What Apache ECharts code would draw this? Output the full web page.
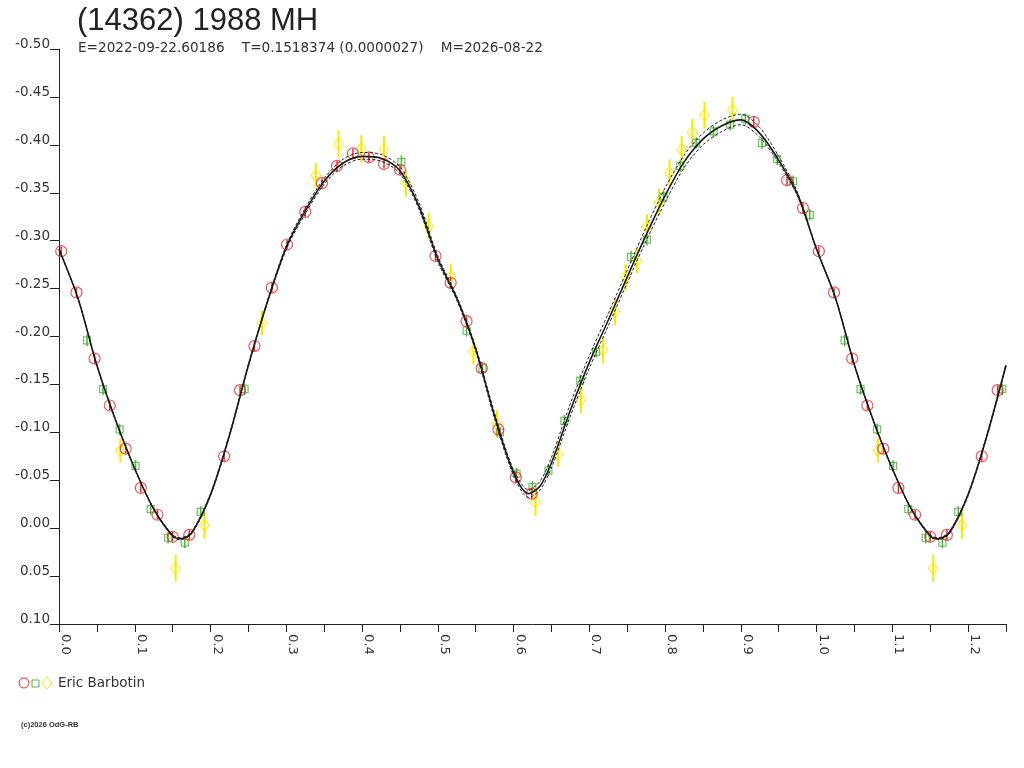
<!DOCTYPE html>
<html>
<head>
<meta charset="utf-8">
<script src="https://cdn.jsdelivr.net/npm/echarts@6/dist/echarts.min.js"></script>
<style>
html,body{margin:0;padding:0;background:#fff;}
#chart{width:1024px;height:768px;}
</style>
</head>
<body>
<div id="chart"></div>
<script>
// ---- Data (phase, magnitude, error) ----
var titleText = "(14362) 1988 MH";
var subtitleText = "E=2022-09-22.60186    T=0.1518374 (0.0000027)    M=2026-08-22";
var observer = "Eric Barbotin";
var copyrightText = "(c)2026 OdG-RB";

var yTicks = [-0.50,-0.45,-0.40,-0.35,-0.30,-0.25,-0.20,-0.15,-0.10,-0.05,0.00,0.05,0.10];

var redPoints = [
 [0.003,-0.289,0.005],[0.023,-0.246,0.005],[0.047,-0.177,0.005],[0.067,-0.128,0.005],
 [0.088,-0.083,0.005],[0.108,-0.042,0.005],[0.130,-0.014,0.005],[0.150,0.009,0.005],
 [0.172,0.007,0.005],[0.218,-0.075,0.005],[0.239,-0.144,0.005],[0.258,-0.190,0.005],
 [0.281,-0.251,0.005],[0.301,-0.296,0.005],[0.325,-0.330,0.005],[0.347,-0.360,0.005],
 [0.367,-0.378,0.005],[0.388,-0.391,0.005],[0.409,-0.387,0.005],[0.429,-0.380,0.005],
 [0.450,-0.374,0.005],[0.497,-0.284,0.005],[0.517,-0.256,0.005],[0.538,-0.216,0.005],
 [0.558,-0.167,0.005],[0.580,-0.103,0.005],[0.603,-0.053,0.005],[0.624,-0.036,0.005],
 [0.917,-0.424,0.005],[0.961,-0.363,0.005],[0.982,-0.334,0.005]
];
var greenPoints = [
 [0.037,-0.196,0.006],[0.058,-0.145,0.006],[0.080,-0.103,0.006],[0.101,-0.065,0.006],
 [0.121,-0.020,0.006],[0.144,0.010,0.006],[0.166,0.015,0.006],[0.187,-0.017,0.006],
 [0.245,-0.145,0.006],[0.452,-0.382,0.007],[0.538,-0.206,0.006],[0.559,-0.167,0.006],
 [0.582,-0.100,0.006],[0.604,-0.057,0.006],[0.625,-0.043,0.006],[0.646,-0.060,0.006],
 [0.667,-0.112,0.006],[0.688,-0.154,0.006],[0.709,-0.184,0.006],[0.755,-0.283,0.006],
 [0.776,-0.301,0.006],[0.798,-0.346,0.006],[0.820,-0.378,0.006],[0.841,-0.402,0.006],
 [0.864,-0.414,0.006],[0.886,-0.421,0.006],[0.906,-0.427,0.006],[0.928,-0.402,0.006],
 [0.948,-0.385,0.006],[0.969,-0.362,0.006],[0.991,-0.327,0.006]
];
var yellowPoints = [
 [0.081,-0.081,0.0125],[0.154,0.042,0.014],[0.192,-0.003,0.014],[0.268,-0.214,0.013],
 [0.339,-0.368,0.013],[0.369,-0.401,0.014],[0.399,-0.396,0.014],[0.429,-0.395,0.014],
 [0.458,-0.360,0.014],[0.488,-0.315,0.014],[0.517,-0.263,0.013],[0.547,-0.184,0.013],
 [0.578,-0.109,0.014],[0.629,-0.027,0.014],[0.659,-0.077,0.013],[0.689,-0.134,0.014],
 [0.718,-0.186,0.014],[0.734,-0.226,0.014],[0.748,-0.262,0.014],[0.763,-0.279,0.013],
 [0.776,-0.315,0.013],[0.792,-0.340,0.014],[0.806,-0.371,0.014],[0.822,-0.395,0.014],
 [0.836,-0.413,0.014],[0.852,-0.431,0.014],[0.889,-0.436,0.014]
];

var curvePhase = [0,0.025,0.05,0.075,0.1,0.125,0.15,0.16,0.175,0.2,0.225,0.25,0.275,0.3,0.325,0.35,0.375,0.4,0.425,0.45,0.475,0.5,0.525,0.55,0.575,0.6,0.62,0.635,0.65,0.675,0.7,0.725,0.75,0.775,0.8,0.825,0.85,0.875,0.9,0.925,0.95,0.975,1.0];
var curveMid = [-0.291,-0.240,-0.170,-0.112,-0.062,-0.020,0.008,0.011,0.005,-0.035,-0.097,-0.170,-0.236,-0.293,-0.331,-0.362,-0.381,-0.388,-0.386,-0.373,-0.336,-0.281,-0.240,-0.187,-0.117,-0.058,-0.036,-0.044,-0.068,-0.123,-0.173,-0.217,-0.262,-0.306,-0.347,-0.382,-0.406,-0.420,-0.426,-0.412,-0.384,-0.348,-0.291];
var curveHigh = [-0.291,-0.240,-0.170,-0.112,-0.062,-0.020,0.007,0.010,0.004,-0.036,-0.098,-0.171,-0.237,-0.295,-0.334,-0.365,-0.385,-0.392,-0.390,-0.377,-0.340,-0.284,-0.242,-0.189,-0.120,-0.061,-0.040,-0.049,-0.074,-0.130,-0.180,-0.224,-0.269,-0.314,-0.355,-0.389,-0.412,-0.426,-0.432,-0.418,-0.388,-0.350,-0.291];
var curveLow = [-0.291,-0.240,-0.170,-0.112,-0.062,-0.020,0.009,0.012,0.006,-0.034,-0.096,-0.169,-0.235,-0.291,-0.328,-0.359,-0.378,-0.385,-0.383,-0.370,-0.333,-0.278,-0.238,-0.185,-0.114,-0.055,-0.032,-0.040,-0.063,-0.117,-0.167,-0.211,-0.256,-0.300,-0.340,-0.376,-0.400,-0.414,-0.421,-0.408,-0.381,-0.346,-0.291];

// ---- helpers: fold phases onto the 0 .. 1.25 plotting range ----
var XMAX = 1.25;
function wrapPoints(pts){
  var out = pts.slice();
  pts.forEach(function(p){ if (p[0] + 1 <= XMAX) out.push([p[0] + 1, p[1], p[2]]); });
  return out;
}
function wrapCurve(vals){
  var out = [];
  curvePhase.forEach(function(ph, i){ out.push([ph, vals[i]]); });
  curvePhase.forEach(function(ph, i){ if (ph > 0 && ph + 1 <= XMAX + 1e-9) out.push([ph + 1, vals[i]]); });
  return out;
}
function errSeries(data, color, width){
  return {
    type: 'custom', data: data, z: 2, silent: true,
    renderItem: function(params, api){
      var x = api.value(0), y = api.value(1), e = api.value(2);
      var a = api.coord([x, y - e]), b = api.coord([x, y + e]);
      return {type:'line', shape:{x1:a[0], y1:a[1], x2:b[0], y2:b[1]}, style:{stroke:color, lineWidth:width}};
    }
  };
}

var RED = '#f02828', GREEN = '#4cb43c', YELLOW = '#f8e800';
var FONT = '"Liberation Sans", Arial, sans-serif';
var SMALL = '"DejaVu Sans", Verdana, sans-serif';

var red = wrapPoints(redPoints), green = wrapPoints(greenPoints), yellow = wrapPoints(yellowPoints);

var chart = echarts.init(document.getElementById('chart'), null, {renderer:'canvas'});
chart.setOption({
  backgroundColor: '#fff',
  animation: false,
  grid: {left: 59, top: 49, right: 18, bottom: 144, containLabel: false},
  xAxis: {
    type: 'value', min: 0, max: XMAX, interval: 0.05,
    axisLine: {show: true, onZero: false, lineStyle: {color: '#222', width: 1}},
    axisTick: {show: true, length: 8, lineStyle: {color: '#222'}},
    splitLine: {show: false},
    axisLabel: {
      rotate: -90, margin: 10, color: '#333', fontFamily: SMALL, fontSize: 13,
      verticalAlign: 'bottom',
      formatter: function(v){ var k = Math.round(v * 100); return (k % 10 === 0) ? (k / 100).toFixed(1) : ''; }
    }
  },
  yAxis: {
    type: 'value', inverse: true, min: -0.5, max: 0.1, interval: 0.05,
    axisLine: {show: true, onZero: false, lineStyle: {color: '#222', width: 1}},
    axisTick: {show: true, length: 9, lineStyle: {color: '#222'}},
    splitLine: {show: false},
    axisLabel: {
      margin: 9, color: '#333', fontFamily: SMALL, fontSize: 13.5,
      verticalAlign: 'bottom', lineHeight: 9,
      formatter: function(v){ return v.toFixed(2); }
    }
  },
  series: [
    errSeries(yellow, YELLOW, 2),
    errSeries(green, GREEN, 1.5),
    errSeries(red, RED, 1.5),
    {type:'scatter', data: yellow, symbol:'diamond', symbolSize:[10,12], z:3,
     itemStyle:{color:'rgba(0,0,0,0)', borderColor: YELLOW, borderWidth:1.2}},
    {type:'scatter', data: green, symbol:'rect', symbolSize:7, z:3,
     itemStyle:{color:'rgba(0,0,0,0)', borderColor: GREEN, borderWidth:1.2}},
    {type:'scatter', data: red, symbol:'circle', symbolSize:11, z:3,
     itemStyle:{color:'rgba(0,0,0,0)', borderColor: RED, borderWidth:1.2}},
    {type:'line', data: wrapCurve(curveHigh), smooth: 0.3, showSymbol:false, z:4,
     lineStyle:{color:'#222', width:1, type:[3,2]}},
    {type:'line', data: wrapCurve(curveLow), smooth: 0.3, showSymbol:false, z:4,
     lineStyle:{color:'#222', width:1, type:[3,2]}},
    {type:'line', data: wrapCurve(curveMid), smooth: 0.3, showSymbol:false, z:5,
     lineStyle:{color:'#1a1a1a', width:1.6}}
  ],
  graphic: [
    {type:'text', left: 77, top: 6, style:{text: titleText, font: '31px ' + FONT, fill:'#222'}},
    {type:'text', left: 78, top: 41, style:{text: subtitleText, font: '13.6px ' + SMALL, fill:'#333'}},
    {type:'circle', shape:{cx:24, cy:683, r:5}, style:{fill:'none', stroke:RED, lineWidth:1}},
    {type:'rect', shape:{x:32, y:680, width:7, height:7}, style:{fill:'none', stroke:GREEN, lineWidth:1}},
    {type:'polygon', shape:{points:[[47,677],[52,683],[47,689],[42,683]]}, style:{fill:'none', stroke:YELLOW, lineWidth:1}},
    {type:'text', left: 58, top: 676, style:{text: observer, font: '13.5px ' + SMALL, fill:'#333'}},
    {type:'text', left: 21, top: 721, style:{text: copyrightText, font: 'bold 7.5px ' + FONT, fill:'#333'}}
  ]
});
</script>
</body>
</html>
